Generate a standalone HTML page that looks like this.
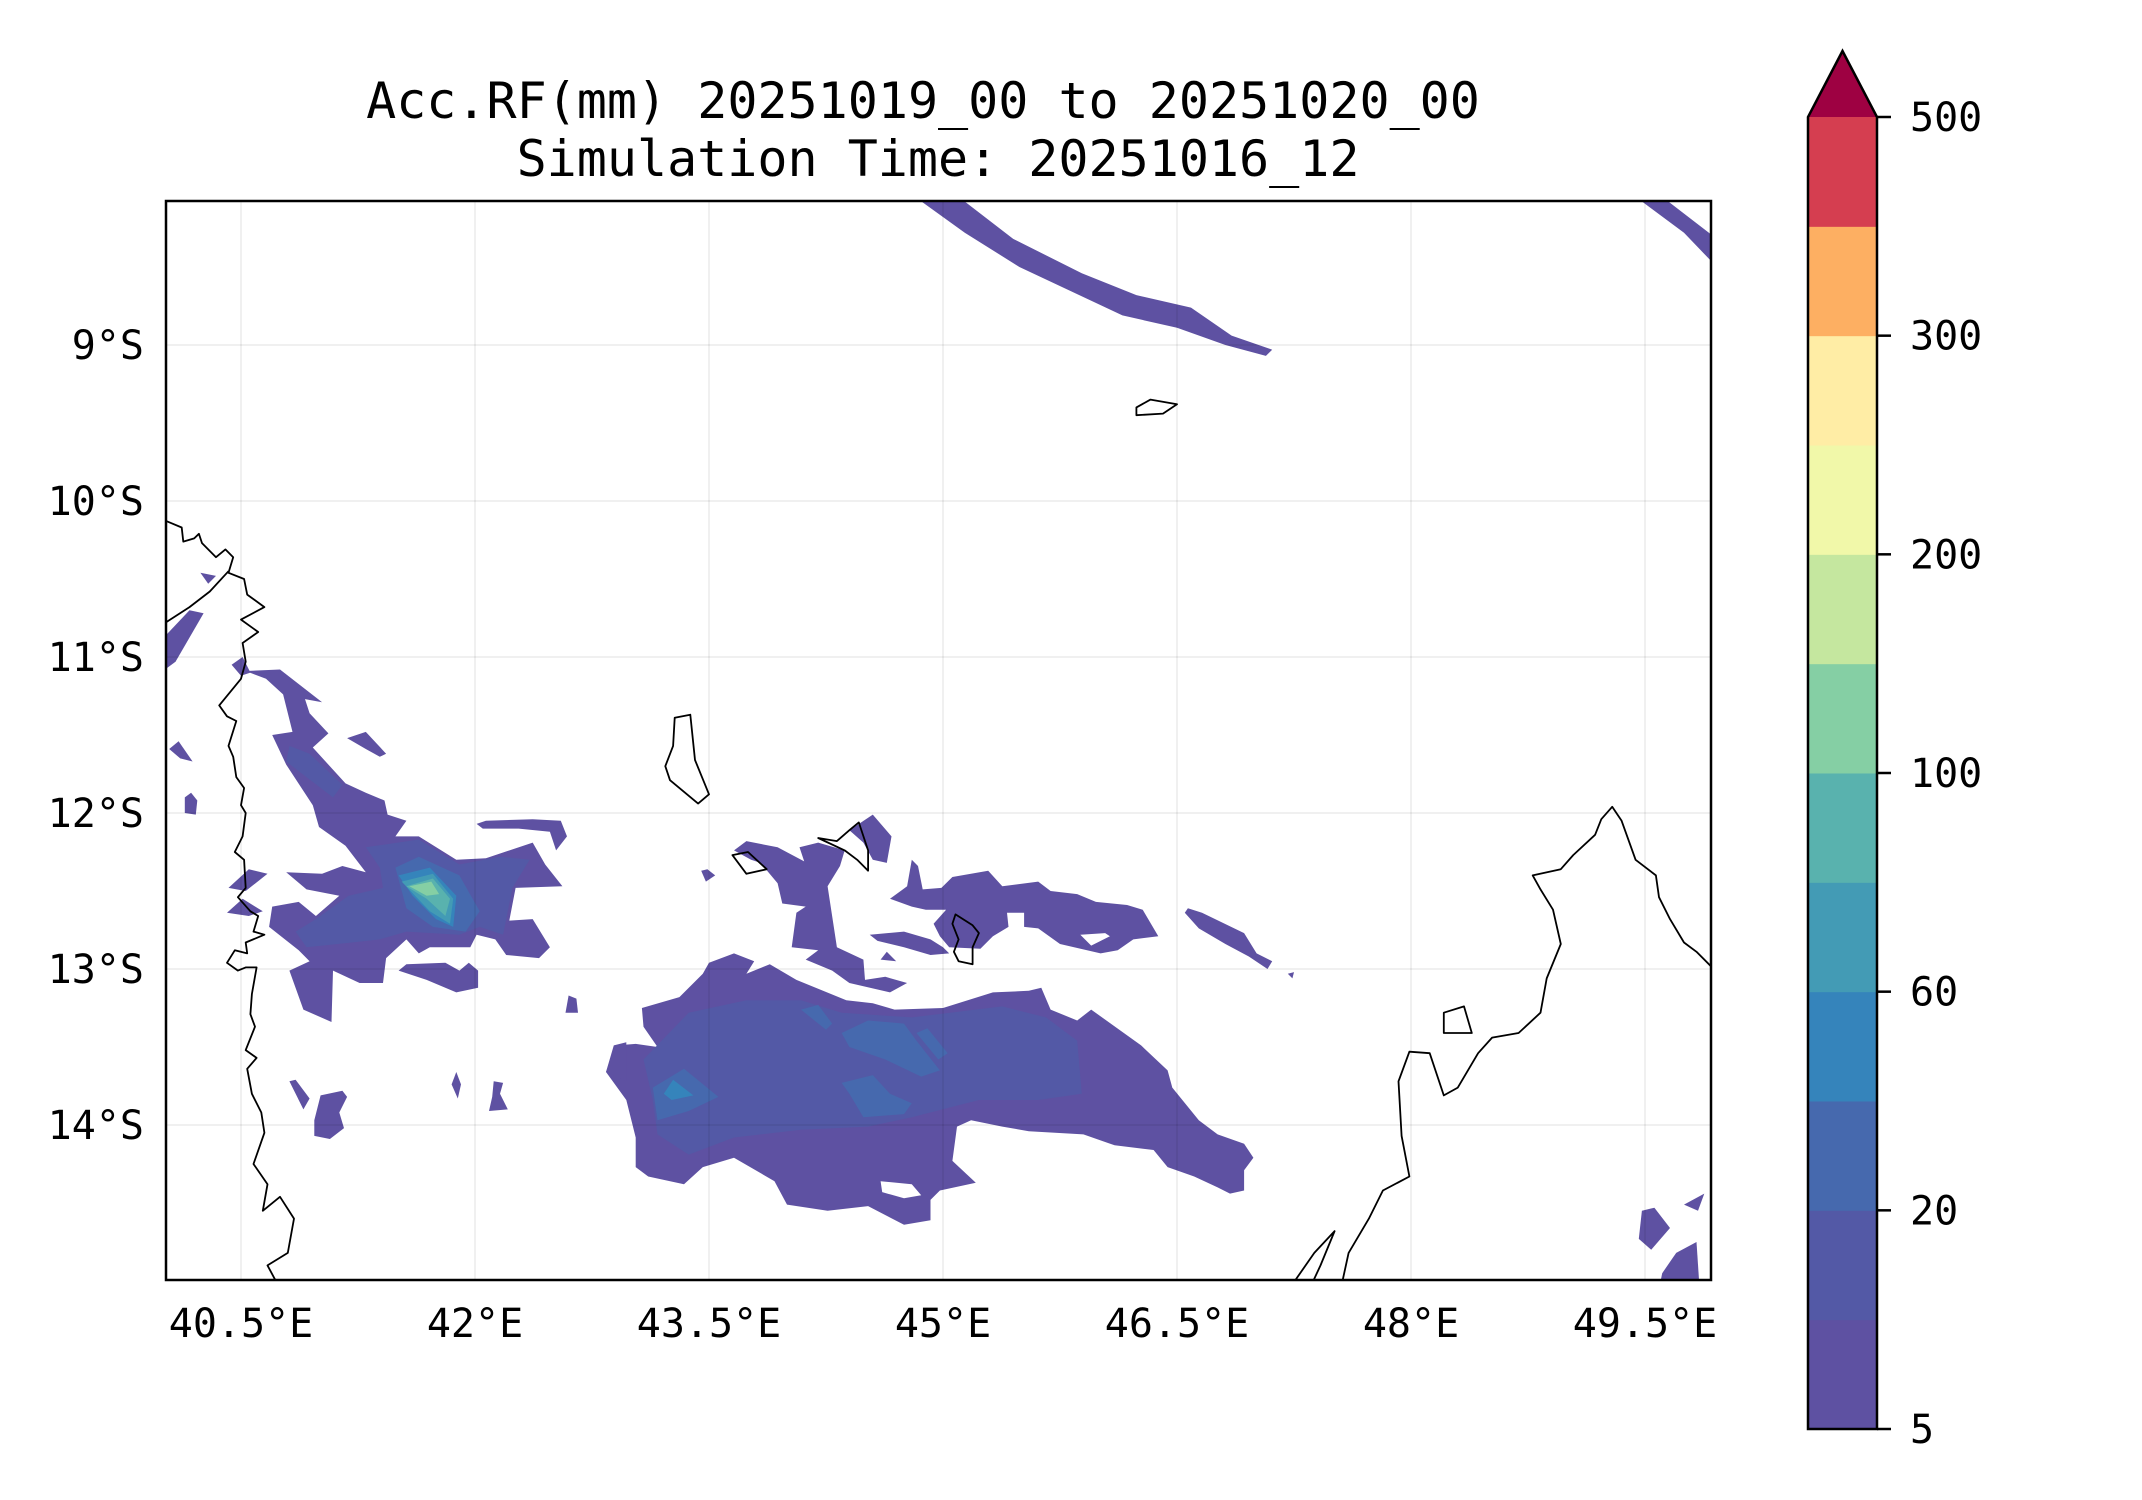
<!DOCTYPE html>
<html><head><meta charset="utf-8"><style>
html,body{margin:0;padding:0;background:#fff;}
svg{display:block;font-family:"DejaVu Sans Mono","Liberation Mono",monospace;}
</style></head><body>
<svg id="chart" xmlns="http://www.w3.org/2000/svg" width="2142" height="1500" viewBox="0 0 2142 1500">
<rect width="2142" height="1500" fill="#fff"/>
<text x="923" y="118" font-size="50" text-anchor="middle">Acc.RF(mm) 20251019_00 to 20251020_00</text>
<text x="938" y="176" font-size="50" text-anchor="middle">Simulation Time: 20251016_12</text>
<defs><clipPath id="plotclip"><rect x="166" y="201" width="1545" height="1079"/></clipPath></defs>
<g id="fills" clip-path="url(#plotclip)"></g>
<g id="grid" clip-path="url(#plotclip)"></g>
<g id="coast" clip-path="url(#plotclip)"></g>
<rect x="166" y="201" width="1545" height="1079" fill="none" stroke="#000" stroke-width="2.5"/>
<g id="xticks"></g>
<g id="yticks"></g>
<g id="cbar"></g>
</svg>
<script>
const lonTicks = [40.5, 42, 43.5, 45, 46.5, 48, 49.5];
const lonTickLabels = ["40.5°E","42°E","43.5°E","45°E","46.5°E","48°E","49.5°E"];
const latTicks = [-9, -10, -11, -12, -13, -14];
const latTickLabels = ["9°S","10°S","11°S","12°S","13°S","14°S"];
const cbarLevels = [5, 10, 20, 40, 60, 80, 100, 150, 200, 250, 300, 400, 500];
const cbarTickValues = [5, 20, 60, 100, 200, 300, 500];
const cbarColors = ["#5e51a2","#5359a6","#4669ae","#3584bb","#439bb5","#59b2ae","#85cfa4","#c5e79f","#f1f8a9","#ffeda5","#fdaf62","#d53e50"];
const overColor = "#9e0142";

// rainfall polygons: level index (0 = 5-10mm ...), and [lon,lat] vertices
const rainLevel = [0,0,0,1,1,2,3,4,5,6,0,1,2,2,2,3,2,2,0,0,0,0,0,0,0,0,0,0,0,0,0,0,0,0,0,0,0,0,0,0,0,0,0,0,0,0,0,0,0,0];
const rainPolys = [
 [[44.82,-8.05],[45.10,-8.05],[45.45,-8.32],[45.89,-8.54],[46.24,-8.68],[46.59,-8.76],[46.85,-8.94],[47.11,-9.03],[47.07,-9.07],[46.81,-9.0],[46.50,-8.89],[46.15,-8.81],[45.49,-8.50],[45.14,-8.28]],
 [[40.53,-11.09],[40.75,-11.08],[41.02,-11.29],[40.91,-11.27],[40.94,-11.36],[41.06,-11.49],[40.96,-11.58],[41.17,-11.81],[41.30,-11.87],[41.42,-11.92],[41.44,-12.01],[41.56,-12.05],[41.49,-12.15],[41.64,-12.15],[41.88,-12.30],[42.07,-12.29],[42.37,-12.19],[42.45,-12.33],[42.56,-12.47],[42.26,-12.48],[42.22,-12.69],[42.37,-12.68],[42.48,-12.86],[42.41,-12.93],[42.20,-12.91],[42.13,-12.81],[42.01,-12.78],[41.97,-12.86],[41.71,-12.86],[41.64,-12.90],[41.56,-12.81],[41.43,-12.93],[41.41,-13.09],[41.26,-13.09],[41.09,-13.01],[41.08,-13.34],[40.90,-13.26],[40.81,-13.01],[40.94,-12.95],[40.87,-12.88],[40.68,-12.73],[40.70,-12.60],[40.87,-12.57],[40.98,-12.66],[41.13,-12.53],[40.92,-12.49],[40.79,-12.38],[41.02,-12.39],[41.15,-12.34],[41.30,-12.38],[41.17,-12.21],[41.00,-12.09],[40.96,-11.95],[40.79,-11.69],[40.70,-11.50],[40.83,-11.48],[40.77,-11.24],[40.66,-11.14]],
 [[43.50,-12.96],[43.66,-12.90],[43.79,-12.95],[43.74,-13.03],[43.89,-12.97],[44.06,-13.07],[44.38,-13.20],[44.55,-13.22],[44.69,-13.26],[45.00,-13.25],[45.32,-13.15],[45.55,-13.14],[45.63,-13.12],[45.69,-13.26],[45.86,-13.33],[45.95,-13.26],[46.27,-13.49],[46.44,-13.65],[46.47,-13.76],[46.64,-13.97],[46.76,-14.06],[46.93,-14.12],[46.99,-14.21],[46.93,-14.29],[46.93,-14.42],[46.84,-14.44],[46.76,-14.40],[46.61,-14.33],[46.44,-14.27],[46.35,-14.16],[46.10,-14.13],[45.90,-14.06],[45.55,-14.04],[45.38,-14.01],[45.18,-13.97],[45.09,-14.01],[45.06,-14.23],[45.21,-14.37],[44.98,-14.42],[44.92,-14.48],[44.92,-14.61],[44.75,-14.64],[44.52,-14.52],[44.26,-14.55],[44.00,-14.51],[43.92,-14.36],[43.66,-14.21],[43.46,-14.27],[43.34,-14.38],[43.11,-14.33],[43.03,-14.27],[43.03,-14.08],[42.97,-13.84],[42.84,-13.66],[42.91,-13.49],[43.03,-13.48],[43.17,-13.50],[43.08,-13.37],[43.07,-13.25],[43.31,-13.18],[43.46,-13.03]],
 [[41.30,-12.22],[41.64,-12.17],[41.90,-12.33],[42.16,-12.28],[42.35,-12.30],[42.24,-12.48],[42.18,-12.78],[42.03,-12.73],[41.90,-12.78],[41.56,-12.76],[41.39,-12.81],[41.21,-12.83],[40.92,-12.86],[40.85,-12.76],[40.98,-12.68],[41.19,-12.53],[41.41,-12.48],[41.39,-12.35]],
 [[40.81,-11.57],[40.94,-11.62],[41.15,-11.82],[41.09,-11.90],[40.92,-11.77],[40.79,-11.67]],
 [[41.49,-12.35],[41.64,-12.28],[41.90,-12.40],[42.03,-12.63],[41.94,-12.76],[41.73,-12.73],[41.56,-12.61]],
 [[41.51,-12.40],[41.71,-12.35],[41.88,-12.53],[41.86,-12.73],[41.75,-12.68],[41.60,-12.53]],
 [[41.53,-12.44],[41.73,-12.39],[41.86,-12.55],[41.84,-12.71],[41.71,-12.63]],
 [[41.56,-12.47],[41.73,-12.42],[41.84,-12.55],[41.81,-12.66],[41.69,-12.55]],
 [[41.58,-12.47],[41.72,-12.44],[41.77,-12.52],[41.69,-12.53]],
 [[44.75,-12.86],[44.75,-12.86],[44.75,-12.86]],
 [[43.08,-13.58],[43.37,-13.28],[43.74,-13.20],[44.09,-13.20],[44.35,-13.28],[44.80,-13.31],[45.38,-13.24],[45.66,-13.31],[45.86,-13.46],[45.89,-13.80],[45.61,-13.84],[45.23,-13.84],[44.80,-13.95],[44.52,-14.01],[44.09,-14.03],[43.66,-14.08],[43.37,-14.19],[43.17,-14.06],[43.14,-13.84]],
 [[44.35,-13.41],[44.52,-13.33],[44.75,-13.35],[44.83,-13.46],[44.98,-13.65],[44.86,-13.69],[44.63,-13.58],[44.40,-13.50]],
 [[44.35,-13.73],[44.55,-13.68],[44.66,-13.80],[44.80,-13.86],[44.75,-13.93],[44.49,-13.95],[44.40,-13.80]],
 [[43.14,-13.76],[43.34,-13.64],[43.56,-13.82],[43.37,-13.91],[43.17,-13.97]],
 [[43.21,-13.80],[43.27,-13.71],[43.40,-13.81],[43.26,-13.84]],
 [[44.09,-13.26],[44.20,-13.23],[44.29,-13.35],[44.25,-13.39]],
 [[44.83,-13.41],[44.90,-13.38],[45.03,-13.54],[44.97,-13.58]],
 [[43.74,-12.18],[43.94,-12.22],[44.11,-12.31],[44.08,-12.22],[44.20,-12.19],[44.37,-12.24],[44.34,-12.34],[44.26,-12.47],[44.30,-12.73],[44.32,-12.86],[44.49,-12.94],[44.50,-13.07],[44.63,-13.05],[44.77,-13.09],[44.66,-13.15],[44.40,-13.09],[44.29,-13.01],[44.12,-12.94],[44.20,-12.88],[44.03,-12.86],[44.06,-12.64],[44.12,-12.60],[43.97,-12.58],[43.94,-12.45],[43.83,-12.32],[43.77,-12.30],[43.66,-12.24]],
 [[44.40,-12.11],[44.55,-12.01],[44.67,-12.15],[44.64,-12.32],[44.55,-12.30],[44.49,-12.19]],
 [[43.45,-12.37],[43.49,-12.36],[43.54,-12.40],[43.48,-12.44]],
 [[44.66,-12.55],[44.77,-12.47],[44.80,-12.30],[44.84,-12.34],[44.87,-12.49],[44.99,-12.48],[45.06,-12.41],[45.29,-12.37],[45.38,-12.47],[45.61,-12.44],[45.69,-12.50],[45.86,-12.52],[45.98,-12.57],[46.18,-12.59],[46.28,-12.62],[46.38,-12.79],[46.22,-12.81],[46.12,-12.88],[46.01,-12.90],[45.75,-12.84],[45.61,-12.74],[45.52,-12.73],[45.52,-12.64],[45.41,-12.64],[45.42,-12.73],[45.32,-12.79],[45.24,-12.87],[45.04,-12.86],[44.98,-12.79],[44.94,-12.71],[45.02,-12.62],[44.89,-12.62],[44.80,-12.60]],
 [[44.53,-12.78],[44.75,-12.76],[44.92,-12.81],[45.00,-12.86],[45.04,-12.90],[44.92,-12.91],[44.75,-12.86],[44.58,-12.82]],
 [[44.60,-12.94],[44.64,-12.89],[44.70,-12.95]],
 [[46.57,-12.61],[46.66,-12.64],[46.93,-12.77],[47.01,-12.90],[47.11,-12.95],[47.08,-13.00],[46.96,-12.92],[46.81,-12.84],[46.64,-12.74],[46.55,-12.64]],
 [[47.21,-13.03],[47.25,-13.02],[47.24,-13.06]],
 [[49.44,-8.05],[49.61,-8.05],[49.96,-8.32],[49.96,-8.50],[49.75,-8.28]],
 [[40.24,-10.46],[40.34,-10.48],[40.29,-10.53]],
 [[40.0,-10.88],[40.17,-10.70],[40.26,-10.72],[40.08,-11.03],[40.0,-11.09]],
 [[40.44,-11.05],[40.51,-11.00],[40.56,-11.10],[40.50,-11.12]],
 [[40.04,-11.59],[40.10,-11.54],[40.19,-11.67],[40.11,-11.65]],
 [[40.14,-11.90],[40.18,-11.87],[40.22,-11.92],[40.21,-12.01],[40.14,-12.00]],
 [[41.18,-11.52],[41.30,-11.48],[41.43,-11.62],[41.39,-11.64],[41.30,-11.59]],
 [[42.01,-12.07],[42.07,-12.05],[42.37,-12.04],[42.55,-12.05],[42.59,-12.15],[42.52,-12.24],[42.48,-12.12],[42.28,-12.10],[42.05,-12.10]],
 [[41.51,-13.01],[41.56,-12.97],[41.81,-12.96],[41.90,-13.01],[41.96,-12.96],[42.02,-13.01],[42.02,-13.12],[41.88,-13.15],[41.69,-13.07]],
 [[40.42,-12.48],[40.55,-12.36],[40.67,-12.39],[40.53,-12.50]],
 [[40.41,-12.64],[40.51,-12.55],[40.64,-12.63],[40.55,-12.66]],
 [[40.81,-13.72],[40.85,-13.71],[40.94,-13.83],[40.90,-13.90]],
 [[41.01,-13.81],[41.15,-13.78],[41.18,-13.82],[41.13,-13.92],[41.16,-14.02],[41.07,-14.09],[40.97,-14.07],[40.97,-13.97]],
 [[41.88,-13.66],[41.91,-13.74],[41.89,-13.83],[41.85,-13.74]],
 [[42.12,-13.72],[42.18,-13.73],[42.16,-13.80],[42.21,-13.90],[42.09,-13.91],[42.11,-13.82]],
 [[42.89,-13.49],[42.97,-13.47],[42.97,-13.72],[42.84,-13.66]],
 [[42.60,-13.17],[42.65,-13.19],[42.66,-13.28],[42.58,-13.28]],
 [[49.48,-14.55],[49.56,-14.53],[49.66,-14.66],[49.54,-14.80],[49.46,-14.73]],
 [[49.75,-14.51],[49.88,-14.44],[49.84,-14.55]],
 [[49.61,-14.95],[49.70,-14.82],[49.83,-14.75],[49.85,-15.05],[49.59,-15.05]]
];
const holePolys = [
 [[45.88,-12.78],[46.04,-12.77],[46.07,-12.79],[45.95,-12.85]],
 [[44.60,-14.36],[44.80,-14.38],[44.86,-14.45],[44.75,-14.47],[44.61,-14.43]]
];
const coastClosed = [false,false,false,false,true,true,true,true,true,true];
const coastLines = [
 [[40.0,-10.12],[40.12,-10.17],[40.13,-10.26],[40.20,-10.24],[40.23,-10.21],[40.25,-10.27],[40.34,-10.36],[40.40,-10.31],[40.45,-10.36],[40.42,-10.46],[40.52,-10.50],[40.54,-10.60],[40.65,-10.68],[40.50,-10.76],[40.61,-10.84],[40.51,-10.91],[40.53,-11.03],[40.50,-11.14],[40.36,-11.31],[40.41,-11.38],[40.47,-11.41],[40.42,-11.57],[40.45,-11.64],[40.47,-11.77],[40.52,-11.84],[40.50,-11.95],[40.53,-12.0],[40.51,-12.15],[40.46,-12.25],[40.52,-12.30],[40.53,-12.48],[40.48,-12.54],[40.56,-12.63],[40.61,-12.66],[40.58,-12.76],[40.65,-12.78],[40.53,-12.83],[40.54,-12.90],[40.46,-12.88],[40.41,-12.96],[40.48,-13.01],[40.53,-12.99],[40.60,-12.99],[40.57,-13.16],[40.56,-13.29],[40.59,-13.37],[40.53,-13.52],[40.60,-13.57],[40.54,-13.64],[40.57,-13.80],[40.63,-13.92],[40.65,-14.05],[40.58,-14.25],[40.67,-14.38],[40.64,-14.55],[40.75,-14.46],[40.84,-14.60],[40.80,-14.82],[40.67,-14.90],[40.75,-15.05]],
 [[40.0,-10.79],[40.17,-10.68],[40.30,-10.58],[40.42,-10.45]],
 [[49.96,-13.02],[49.83,-12.89],[49.75,-12.83],[49.66,-12.68],[49.59,-12.54],[49.57,-12.40],[49.44,-12.30],[49.35,-12.05],[49.29,-11.96],[49.22,-12.04],[49.18,-12.14],[49.04,-12.27],[48.96,-12.36],[48.78,-12.40],[48.83,-12.49],[48.91,-12.62],[48.96,-12.84],[48.87,-13.06],[48.83,-13.28],[48.69,-13.41],[48.52,-13.44],[48.43,-13.54],[48.30,-13.76],[48.21,-13.81],[48.12,-13.54],[47.99,-13.53],[47.92,-13.72],[47.94,-14.07],[47.99,-14.33],[47.82,-14.42],[47.73,-14.60],[47.60,-14.82],[47.55,-15.05]],
 [[47.22,-15.05],[47.38,-14.82],[47.51,-14.68],[47.42,-14.90],[47.35,-15.05]],
 [[48.21,-13.28],[48.34,-13.24],[48.39,-13.41],[48.21,-13.41]],
 [[43.28,-11.39],[43.38,-11.37],[43.41,-11.66],[43.50,-11.88],[43.43,-11.94],[43.25,-11.79],[43.22,-11.70],[43.27,-11.57]],
 [[43.65,-12.27],[43.75,-12.25],[43.87,-12.36],[43.74,-12.39]],
 [[44.20,-12.16],[44.32,-12.18],[44.40,-12.11],[44.46,-12.06],[44.52,-12.24],[44.52,-12.37],[44.45,-12.30],[44.37,-12.24]],
 [[45.08,-12.65],[45.19,-12.72],[45.23,-12.77],[45.19,-12.86],[45.19,-12.97],[45.10,-12.95],[45.07,-12.89],[45.10,-12.81],[45.06,-12.71]],
 [[46.24,-9.40],[46.33,-9.35],[46.50,-9.38],[46.41,-9.44],[46.24,-9.45]]
];

const NS = "http://www.w3.org/2000/svg";
const X0 = 241, Y0 = 345, PPD = 156;
function xScale(lon){ return X0 + (lon - 40.5) * PPD; }
function yScale(lat){ return Y0 + (-lat - 9) * PPD; }
const CB_TOP = 117, CB_BOT = 1429, CB_L = 1808, CB_R = 1877;
function cbY(i){ return CB_BOT - i * (CB_BOT - CB_TOP) / (cbarLevels.length - 1); }
function mk(tag, attrs, parent){ const e = document.createElementNS(NS, tag); for (const k in attrs) e.setAttribute(k, attrs[k]); parent.appendChild(e); return e; }
function ptsStr(poly){ return poly.map(p => xScale(p[0]).toFixed(1) + "," + yScale(p[1]).toFixed(1)).join(" "); }

const fills = document.getElementById("fills");
rainPolys.forEach((poly, i) => {
  const lvl = (rainLevel[i] === undefined) ? 0 : rainLevel[i];
  const el = mk("polygon", {points: ptsStr(poly), fill: cbarColors[lvl]}, fills);
  
  
});
holePolys.forEach(poly => {
  const el = mk("polygon", {points: ptsStr(poly), fill: "#fff"}, fills);
  
  
});

const grid = document.getElementById("grid");
lonTicks.forEach(v => {
  const el = mk("line", {x1: xScale(v), x2: xScale(v), y1: 201, y2: 1280, stroke: "#000", "stroke-opacity": 0.08, "stroke-width": 1.5}, grid);
  
  
});
latTicks.forEach(v => {
  const el = mk("line", {x1: 166, x2: 1711, y1: yScale(v), y2: yScale(v), stroke: "#000", "stroke-opacity": 0.08, "stroke-width": 1.5}, grid);
  
  
});

const coast = document.getElementById("coast");
coastLines.forEach((line, i) => {
  const el = mk(coastClosed[i] ? "polygon" : "polyline", {points: ptsStr(line), fill: "none", stroke: "#000", "stroke-width": 1.8, "stroke-linejoin": "round"}, coast);
  
  
});

const xt = document.getElementById("xticks");
lonTicks.forEach((v, i) => {
  const t = mk("text", {x: xScale(v), y: 1337, "font-size": 40, "text-anchor": "middle"}, xt);
  t.textContent = lonTickLabels[i];
  
  
});
const yt = document.getElementById("yticks");
latTicks.forEach((v, i) => {
  const t = mk("text", {x: 144, y: yScale(v) + 14, "font-size": 40, "text-anchor": "end"}, yt);
  t.textContent = latTickLabels[i];
  
  
});

const cb = document.getElementById("cbar");
cbarColors.forEach((c, i) => {
  const y1 = cbY(i + 1), y0 = cbY(i);
  const r = mk("rect", {x: CB_L, y: y1, width: CB_R - CB_L, height: y0 - y1 + 0.5, fill: c}, cb);
  
  
});
const arrowTip = 51;
const arr = mk("polygon", {points: `${CB_L},${CB_TOP} ${(CB_L+CB_R)/2},${arrowTip} ${CB_R},${CB_TOP}`, fill: overColor}, cb);


const outl = mk("polygon", {points: `${CB_L},${CB_BOT} ${CB_L},${CB_TOP} ${(CB_L+CB_R)/2},${arrowTip} ${CB_R},${CB_TOP} ${CB_R},${CB_BOT}`, fill: "none", stroke: "#000", "stroke-width": 2.5}, cb);


cbarTickValues.forEach(v => {
  const i = cbarLevels.indexOf(v);
  const y = cbY(i);
  const tk = mk("line", {x1: CB_R, x2: CB_R + 14, y1: y, y2: y, stroke: "#000", "stroke-width": 2.5}, cb);
  
  
  const t = mk("text", {x: 1910, y: y + 14, "font-size": 40}, cb);
  t.textContent = String(v);
  
  
});
</script>
</body></html>
